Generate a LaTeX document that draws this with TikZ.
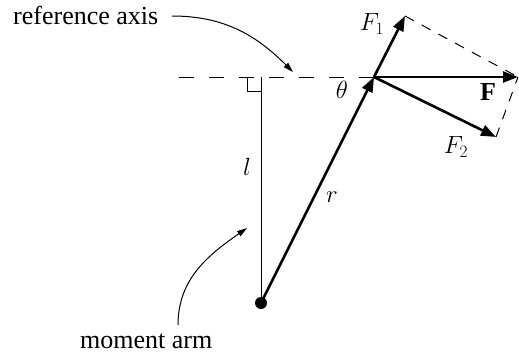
\documentclass[tikz,border=0pt]{standalone}
\usepackage{fontspec}
\setmainfont{Liberation Serif}
\usetikzlibrary{arrows.meta}
\begin{document}
\begin{tikzpicture}[x=1pt,y=-1pt,
  thinline/.style={line width=1pt},
  thickvec/.style={line width=2.6pt,-{Triangle[length=15pt,width=11pt]}},
  pointer/.style={line width=1pt,-{Triangle[length=10pt,width=6pt]}},
  axisdash/.style={line width=1pt,dash pattern=on 15pt off 15pt},
  paradash/.style={line width=1pt,dash pattern=on 10pt off 9pt},
  lbl/.style={inner sep=0pt,font=\fontsize{26}{31}\selectfont}]
\useasboundingbox (0,0) rectangle (519,356);
\coordinate (O) at (261,303);
\coordinate (P) at (374,77);
\coordinate (A) at (179,77);
\coordinate (T1) at (405,16);
\coordinate (T2) at (496,137);
\coordinate (TF) at (518,77);
\coordinate (Lt) at (261,77);
\coordinate (RA) at (172,16);
\coordinate (RAt) at (293,72);
\coordinate (MA) at (178,325);
\coordinate (MAt) at (247,228);
% axis
\draw[axisdash] (A) -- (P);
% right angle
\draw[thinline] (247,77) -- (247,91) -- (261,91);
% moment arm line
\draw[thinline] (Lt) -- (O);
% parallelogram
\draw[paradash] (T1) -- (TF);
\draw[paradash] (T2) -- (TF);
% vectors
\draw[thickvec] (O) -- (P);
\draw[thickvec] (P) -- (T1);
\draw[thickvec] (P) -- (T2);
\draw[thickvec] (P) -- (TF);
\fill (O) circle (6pt);
% pointers
\draw[pointer] (RA) to[out=0,in=135] (RAt);
\draw[pointer] (MA) to[out=90,in=215] (MAt);
% labels
\node[lbl,anchor=base west] (tref) at (13,24) {reference axis};
\node[lbl,anchor=base west] (tmom) at (80,348) {moment arm};
\node[lbl] (lF1) at (372,24) {$F_1$};
\node[lbl] (lth) at (342,90) {$\theta$};
\node[lbl] (lF) at (488,92) {$\mathbf{F}$};
\node[lbl] (lF2) at (456,147) {$F_2$};
\node[lbl] (ll) at (247,167) {$l$};
\node[lbl] (lr) at (332,197) {$r$};
\end{tikzpicture}
\end{document}
